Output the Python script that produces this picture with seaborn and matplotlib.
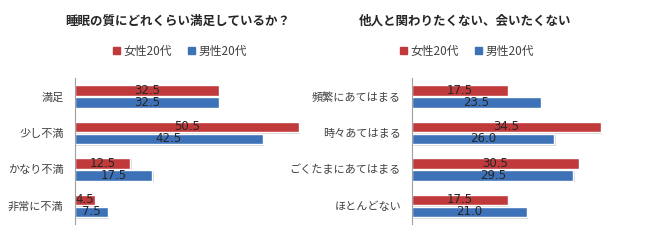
import pandas as pd
import seaborn as sns
import matplotlib.pyplot as plt
import matplotlib.patheffects as pe

# Data
sleep_cats = ['満足', '少し不満', 'かなり不満', '非常に不満']
sleep_female = [32.5, 50.5, 12.5, 4.5]
sleep_male = [32.5, 42.5, 17.5, 7.5]

avoid_cats = ['頻繁にあてはまる', '時々あてはまる', 'ごくたまにあてはまる', 'ほとんどない']
avoid_female = [17.5, 34.5, 30.5, 17.5]
avoid_male = [23.5, 26.0, 29.5, 21.0]

groups = ['女性20代', '男性20代']
colors = ['#C0393B', '#3D72B8']

sns.set_style('white')
plt.rcParams['font.family'] = ['Noto Sans CJK JP', 'DejaVu Sans']

fig = plt.figure(figsize=(6.5, 2.41), dpi=100)
ax1 = fig.add_axes([0.115, 0.07, 0.375, 0.606])
ax2 = fig.add_axes([0.634, 0.07, 0.345, 0.606])


def long_df(cats, female, male):
    return pd.DataFrame({
        'cat': cats * 2,
        'val': female + male,
        'grp': [groups[0]] * len(cats) + [groups[1]] * len(cats),
    })


panels = [
    (ax1, long_df(sleep_cats, sleep_female, sleep_male), 55),
    (ax2, long_df(avoid_cats, avoid_female, avoid_male), 41),
]

for ax, df, xmax in panels:
    sns.barplot(data=df, y='cat', x='val', hue='grp', palette=colors,
                orient='h', width=0.66, gap=0.12, legend=False, ax=ax,
                saturation=1)
    for patch in ax.patches:
        patch.set_path_effects([pe.SimplePatchShadow(offset=(1, -1), alpha=0.18), pe.Normal()])
    for cont in ax.containers:
        ax.bar_label(cont, fmt='%.1f', label_type='center', fontsize=8.5,
                     color='#262626', family='DejaVu Sans')
    ax.set_xlim(0, xmax)
    ax.set_xlabel('')
    ax.set_ylabel('')
    ax.set_xticks([])
    ax.tick_params(axis='y', length=0, pad=8, labelsize=8, labelcolor='#404040')
    for s in ['top', 'right', 'bottom']:
        ax.spines[s].set_visible(False)
    ax.spines['left'].set_color('#A0A0A0')
    ax.spines['left'].set_linewidth(0.8)

# Titles
fig.text(178 / 650, 1 - 21 / 241, '睡眠の質にどれくらい満足しているか？',
         ha='center', va='center', fontsize=9, fontweight='bold', color='#262626')
fig.text(465 / 650, 1 - 21 / 241, '他人と関わりたくない、会いたくない',
         ha='center', va='center', fontsize=9, fontweight='bold', color='#262626')

# Legends
handles = [plt.Rectangle((0, 0), 1, 1, color=c) for c in colors]
for cx in [180 / 650, 467 / 650]:
    fig.legend(handles, groups, loc='center', bbox_to_anchor=(cx, 1 - 51 / 241),
               ncol=2, frameon=False, fontsize=8.5, handlelength=0.55,
               handleheight=0.55, handletextpad=0.3, columnspacing=1.4,
               labelcolor='#404040')

plt.savefig('out.png', dpi=100)
